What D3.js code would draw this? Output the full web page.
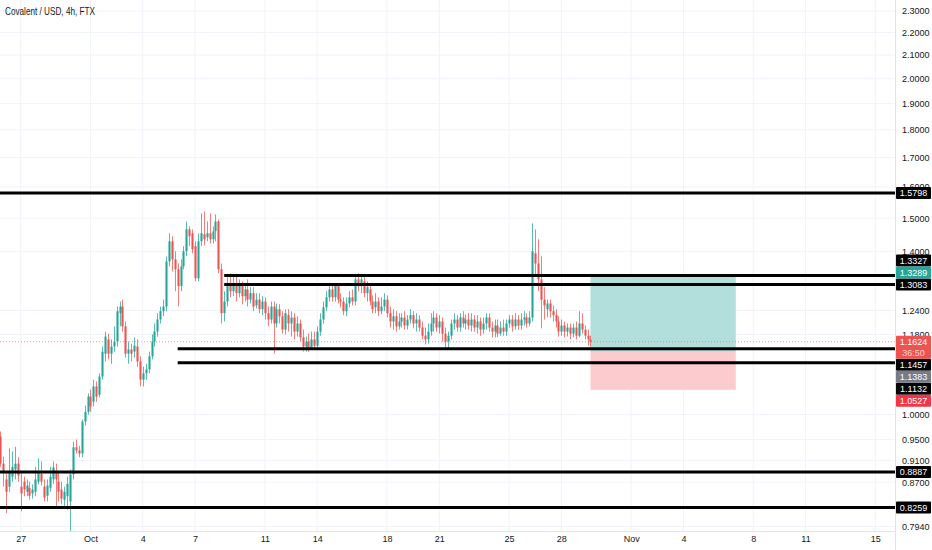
<!DOCTYPE html>
<html>
<head>
<meta charset="utf-8">
<script src="https://cdn.jsdelivr.net/npm/d3@7"></script>
<style>
  body { margin: 0; background: #fff; }
  svg { display: block; }
  text { font-family: "Liberation Sans", Arial, sans-serif; }
</style>
</head>
<body>
<div id="container"></div>
<script>
// Covalent / USD 4h candles, Sep 25 20:00 -> Oct 29 16:00 (UTC)
const candleStart = Date.UTC(2021, 8, 25, 20);
const candleHours = 4;

const opens = [
  0.956, 0.904, 0.875, 0.862, 0.880, 0.893, 0.904, 0.862, 0.871, 0.853,
  0.860, 0.850, 0.853, 0.871, 0.885, 0.862, 0.846, 0.860, 0.875, 0.889,
  0.871, 0.857, 0.839, 0.845, 0.836, 0.884, 0.935, 0.929, 0.923, 0.986,
  1.006, 1.038, 1.027, 1.060, 1.042, 1.082, 1.134, 1.168, 1.134, 1.151,
  1.163, 1.233, 1.250, 1.200, 1.134, 1.144, 1.139, 1.151, 1.116, 1.075,
  1.089, 1.098, 1.128, 1.163, 1.187, 1.217, 1.238, 1.250, 1.372, 1.430,
  1.378, 1.350, 1.304, 1.358, 1.401, 1.466, 1.454, 1.416, 1.325, 1.430,
  1.451, 1.442, 1.454, 1.436, 1.460, 1.490, 1.350, 1.233, 1.263, 1.312,
  1.290, 1.312, 1.285, 1.304, 1.277, 1.295, 1.268, 1.285, 1.253, 1.268,
  1.243, 1.263, 1.233, 1.217, 1.250, 1.207, 1.243, 1.225, 1.192, 1.228,
  1.207, 1.222, 1.187, 1.207, 1.173, 1.151, 1.163, 1.149, 1.168, 1.153,
  1.187, 1.217, 1.248, 1.274, 1.295, 1.274, 1.304, 1.268, 1.263, 1.238,
  1.258, 1.274, 1.263, 1.322, 1.304, 1.317, 1.285, 1.295, 1.263, 1.248,
  1.263, 1.238, 1.250, 1.268, 1.233, 1.212, 1.225, 1.200, 1.212, 1.222,
  1.202, 1.217, 1.228, 1.207, 1.217, 1.197, 1.177, 1.168, 1.187, 1.207,
  1.222, 1.197, 1.212, 1.182, 1.163, 1.177, 1.207, 1.217, 1.197, 1.222,
  1.207, 1.217, 1.202, 1.217, 1.197, 1.212, 1.192, 1.207, 1.222, 1.197,
  1.187, 1.202, 1.182, 1.197, 1.187, 1.207, 1.217, 1.200, 1.217, 1.202,
  1.217, 1.222, 1.207, 1.222, 1.395, 1.366, 1.322, 1.268, 1.243, 1.258,
  1.238, 1.228, 1.212, 1.187, 1.202, 1.187, 1.197, 1.182, 1.197, 1.177,
  1.207, 1.192, 1.177, 1.168
];
const highs = [
  0.966, 0.917, 0.889, 0.933, 0.927, 0.936, 0.916, 0.889, 0.880, 0.875,
  0.871, 0.866, 0.898, 0.914, 0.908, 0.875, 0.875, 0.898, 0.908, 0.904,
  0.889, 0.871, 0.862, 0.880, 0.893, 0.946, 0.950, 0.938, 0.990, 1.019,
  1.045, 1.053, 1.075, 1.071, 1.089, 1.151, 1.187, 1.182, 1.168, 1.200,
  1.250, 1.263, 1.268, 1.212, 1.163, 1.158, 1.173, 1.168, 1.128, 1.104,
  1.111, 1.139, 1.180, 1.207, 1.233, 1.250, 1.268, 1.386, 1.454, 1.445,
  1.401, 1.366, 1.378, 1.416, 1.490, 1.475, 1.466, 1.430, 1.454, 1.515,
  1.521, 1.490, 1.515, 1.475, 1.512, 1.496, 1.366, 1.290, 1.328, 1.339,
  1.331, 1.333, 1.322, 1.317, 1.312, 1.322, 1.301, 1.301, 1.285, 1.285,
  1.277, 1.274, 1.250, 1.263, 1.263, 1.258, 1.256, 1.238, 1.243, 1.243,
  1.238, 1.233, 1.225, 1.217, 1.192, 1.175, 1.182, 1.187, 1.187, 1.200,
  1.233, 1.263, 1.290, 1.312, 1.312, 1.312, 1.309, 1.285, 1.274, 1.274,
  1.290, 1.295, 1.333, 1.339, 1.336, 1.331, 1.317, 1.306, 1.279, 1.285,
  1.274, 1.274, 1.285, 1.279, 1.250, 1.243, 1.238, 1.233, 1.233, 1.238,
  1.228, 1.243, 1.238, 1.233, 1.228, 1.212, 1.197, 1.207, 1.233, 1.238,
  1.233, 1.228, 1.222, 1.197, 1.187, 1.217, 1.233, 1.228, 1.233, 1.238,
  1.230, 1.233, 1.233, 1.228, 1.228, 1.222, 1.222, 1.233, 1.233, 1.212,
  1.217, 1.217, 1.212, 1.217, 1.217, 1.228, 1.228, 1.233, 1.228, 1.233,
  1.238, 1.233, 1.238, 1.484, 1.466, 1.436, 1.387, 1.301, 1.268, 1.268,
  1.253, 1.243, 1.225, 1.217, 1.212, 1.207, 1.207, 1.207, 1.212, 1.238,
  1.233, 1.202, 1.192, 1.177
];
const lows = [
  0.898, 0.862, 0.816, 0.853, 0.871, 0.875, 0.871, 0.819, 0.845, 0.845,
  0.839, 0.841, 0.845, 0.866, 0.864, 0.836, 0.836, 0.853, 0.867, 0.828,
  0.836, 0.831, 0.828, 0.822, 0.785, 0.875, 0.923, 0.916, 0.916, 0.978,
  1.000, 1.006, 1.017, 1.027, 1.036, 1.075, 1.116, 1.121, 1.111, 1.139,
  1.151, 1.200, 1.187, 1.125, 1.111, 1.116, 1.125, 1.104, 1.060, 1.060,
  1.075, 1.089, 1.121, 1.151, 1.175, 1.207, 1.225, 1.238, 1.358, 1.344,
  1.290, 1.250, 1.290, 1.350, 1.387, 1.416, 1.395, 1.317, 1.317, 1.416,
  1.418, 1.430, 1.424, 1.424, 1.430, 1.339, 1.207, 1.212, 1.250, 1.274,
  1.277, 1.263, 1.274, 1.256, 1.263, 1.250, 1.258, 1.238, 1.245, 1.233,
  1.228, 1.217, 1.200, 1.207, 1.134, 1.197, 1.207, 1.182, 1.180, 1.187,
  1.175, 1.168, 1.175, 1.163, 1.139, 1.139, 1.139, 1.144, 1.146, 1.144,
  1.177, 1.207, 1.238, 1.263, 1.263, 1.263, 1.258, 1.248, 1.228, 1.225,
  1.248, 1.253, 1.253, 1.290, 1.285, 1.274, 1.263, 1.253, 1.233, 1.233,
  1.225, 1.230, 1.238, 1.222, 1.197, 1.192, 1.187, 1.192, 1.197, 1.192,
  1.192, 1.207, 1.195, 1.187, 1.187, 1.168, 1.156, 1.158, 1.177, 1.187,
  1.187, 1.182, 1.163, 1.149, 1.144, 1.168, 1.192, 1.187, 1.187, 1.197,
  1.192, 1.192, 1.187, 1.187, 1.182, 1.177, 1.182, 1.192, 1.187, 1.173,
  1.173, 1.173, 1.177, 1.177, 1.177, 1.197, 1.187, 1.192, 1.192, 1.192,
  1.202, 1.197, 1.200, 1.212, 1.331, 1.290, 1.195, 1.217, 1.222, 1.222,
  1.212, 1.197, 1.175, 1.177, 1.173, 1.175, 1.168, 1.173, 1.168, 1.173,
  1.182, 1.168, 1.153, 1.151
];
const closes = [
  0.904, 0.889, 0.853, 0.889, 0.898, 0.904, 0.882, 0.850, 0.857, 0.864,
  0.846, 0.857, 0.875, 0.889, 0.871, 0.843, 0.864, 0.880, 0.897, 0.875,
  0.853, 0.841, 0.853, 0.867, 0.884, 0.935, 0.929, 0.923, 0.986, 1.006,
  1.038, 1.017, 1.060, 1.038, 1.082, 1.139, 1.175, 1.134, 1.151, 1.163,
  1.238, 1.250, 1.200, 1.134, 1.144, 1.134, 1.153, 1.116, 1.075, 1.089,
  1.098, 1.128, 1.163, 1.187, 1.217, 1.238, 1.250, 1.372, 1.430, 1.378,
  1.350, 1.304, 1.358, 1.401, 1.466, 1.445, 1.407, 1.325, 1.430, 1.454,
  1.436, 1.454, 1.436, 1.460, 1.490, 1.350, 1.233, 1.263, 1.312, 1.290,
  1.312, 1.285, 1.306, 1.277, 1.295, 1.268, 1.285, 1.250, 1.268, 1.243,
  1.263, 1.233, 1.217, 1.250, 1.207, 1.243, 1.225, 1.192, 1.233, 1.207,
  1.222, 1.187, 1.207, 1.173, 1.151, 1.163, 1.149, 1.168, 1.153, 1.187,
  1.217, 1.248, 1.274, 1.295, 1.274, 1.306, 1.268, 1.263, 1.238, 1.258,
  1.274, 1.263, 1.322, 1.304, 1.322, 1.285, 1.301, 1.263, 1.243, 1.263,
  1.238, 1.250, 1.268, 1.233, 1.212, 1.225, 1.200, 1.212, 1.222, 1.202,
  1.217, 1.228, 1.207, 1.217, 1.197, 1.177, 1.168, 1.187, 1.207, 1.222,
  1.197, 1.212, 1.182, 1.163, 1.177, 1.207, 1.217, 1.197, 1.222, 1.207,
  1.217, 1.202, 1.217, 1.197, 1.212, 1.192, 1.207, 1.222, 1.197, 1.187,
  1.202, 1.182, 1.197, 1.187, 1.207, 1.217, 1.200, 1.217, 1.202, 1.217,
  1.222, 1.207, 1.222, 1.401, 1.366, 1.322, 1.268, 1.253, 1.258, 1.238,
  1.228, 1.212, 1.187, 1.202, 1.187, 1.197, 1.182, 1.197, 1.177, 1.207,
  1.192, 1.177, 1.168, 1.1624
];

// horizontal levels drawn on the chart (price, start of the line)
const levelPrices = [1.5798, 1.3327, 1.3083, 1.1457, 1.1132, 0.8887, 0.8259];
const levelStarts = [
  "2021-09-20T00:00Z", "2021-10-08T16:00Z", "2021-10-08T16:00Z",
  "2021-10-06T00:00Z", "2021-10-06T00:00Z", "2021-09-20T00:00Z", "2021-09-20T00:00Z"
];

// long position tool
const positionTarget = 1.3289;
const positionEntry = 1.1383;
const positionStop = 1.0527;
const positionEnd = "2021-11-07T00:00Z";
const lastPrice = 1.1624;
const countdown = "36:50";

// axis ticks
const priceTicks = [2.3, 2.2, 2.1, 2.0, 1.9, 1.8, 1.7, 1.6, 1.5, 1.4, 1.24, 1.18, 1.0, 0.95, 0.91, 0.87, 0.794];
const dateTicks = [
  "2021-09-27", "2021-10-01", "2021-10-04", "2021-10-07", "2021-10-11",
  "2021-10-14", "2021-10-18", "2021-10-21", "2021-10-25", "2021-10-28",
  "2021-11-01", "2021-11-04", "2021-11-08", "2021-11-11", "2021-11-15"
];

const chartTitle = "Covalent / USD, 4h, FTX";

const UP = "#26a69a";
const DOWN = "#ef5350";

draw();

function draw() {
  const width = 932;
  const height = 550;
  const plotRight = 895;
  const plotBottom = 531;

  const candles = closes.map((c, i) => ({
    t: new Date(candleStart + i * candleHours * 3600000),
    o: opens[i],
    h: highs[i],
    l: lows[i],
    c: c,
  }));

  const x = d3
    .scaleUtc()
    .domain([new Date("2021-09-27T00:00Z"), new Date("2021-11-15T00:00Z")])
    .range([20.7, 875.3]);
  const y = d3.scaleLog().domain([0.794, 2.3]).range([526.5, 11]);

  const step = x(new Date(candleStart + candleHours * 3600000)) - x(new Date(candleStart));
  const bodyW = Math.max(1, step * 0.72);

  const svg = d3
    .select("#container")
    .append("svg")
    .attr("width", width)
    .attr("height", height)
    .style("background", "#fff");

  svg.append("clipPath").attr("id", "plot")
    .append("rect").attr("x", 0).attr("y", 0).attr("width", plotRight).attr("height", plotBottom);

  // grid
  const grid = svg.append("g").attr("clip-path", "url(#plot)");
  grid.selectAll("line.v")
    .data(dateTicks.map((d) => new Date(d + "T00:00Z")))
    .enter()
    .append("line")
    .attr("x1", (d) => x(d)).attr("x2", (d) => x(d))
    .attr("y1", 0).attr("y2", plotBottom)
    .attr("stroke", "#f0f3fa");
  grid.selectAll("line.h")
    .data(priceTicks)
    .enter()
    .append("line")
    .attr("x1", 0).attr("x2", plotRight)
    .attr("y1", (d) => y(d)).attr("y2", (d) => y(d))
    .attr("stroke", "#f0f3fa");

  const plot = svg.append("g").attr("clip-path", "url(#plot)");

  // position box (long)
  const boxX0 = x(candles[candles.length - 1].t);
  const boxX1 = x(new Date(positionEnd));
  plot.append("rect")
    .attr("x", boxX0).attr("width", boxX1 - boxX0)
    .attr("y", y(positionTarget)).attr("height", y(positionEntry) - y(positionTarget))
    .attr("fill", "#b2dfdb");
  plot.append("rect")
    .attr("x", boxX0).attr("width", boxX1 - boxX0)
    .attr("y", y(positionEntry)).attr("height", y(positionStop) - y(positionEntry))
    .attr("fill", "#fccbcd");

  // current price dotted line
  plot.append("line")
    .attr("x1", 0).attr("x2", plotRight)
    .attr("y1", y(lastPrice)).attr("y2", y(lastPrice))
    .attr("stroke", DOWN).attr("stroke-opacity", 0.6)
    .attr("stroke-dasharray", "1,2");

  // candles
  const cg = plot.append("g");
  cg.selectAll("line.wick")
    .data(candles)
    .enter()
    .append("line")
    .attr("x1", (d) => Math.round(x(d.t)) + 0.5)
    .attr("x2", (d) => Math.round(x(d.t)) + 0.5)
    .attr("y1", (d) => y(d.h))
    .attr("y2", (d) => y(d.l))
    .attr("stroke", (d) => (d.c >= d.o ? UP : DOWN))
    .attr("stroke-opacity", 0.75);
  cg.selectAll("rect.body")
    .data(candles)
    .enter()
    .append("rect")
    .attr("x", (d) => Math.round(x(d.t)) + 0.5 - bodyW / 2)
    .attr("width", bodyW)
    .attr("y", (d) => y(Math.max(d.o, d.c)))
    .attr("height", (d) => Math.max(1, Math.abs(y(d.o) - y(d.c))))
    .attr("fill", (d) => (d.c >= d.o ? UP : DOWN));

  // horizontal levels
  plot.selectAll("line.level")
    .data(levelPrices)
    .enter()
    .append("line")
    .attr("x1", (d, i) => x(new Date(levelStarts[i])))
    .attr("x2", plotRight)
    .attr("y1", (d) => y(d))
    .attr("y2", (d) => y(d))
    .attr("stroke", "#000")
    .attr("stroke-width", 3);

  // title
  svg.append("text")
    .attr("x", 5).attr("y", 15)
    .attr("font-size", 10.5)
    .attr("textLength", 90)
    .attr("lengthAdjust", "spacingAndGlyphs")
    .attr("fill", "#131722")
    .text(chartTitle);

  // borders
  svg.append("line")
    .attr("x1", plotRight + 0.5).attr("x2", plotRight + 0.5)
    .attr("y1", 0).attr("y2", height)
    .attr("stroke", "#e0e3eb");
  svg.append("line")
    .attr("x1", 0).attr("x2", plotRight)
    .attr("y1", plotBottom + 0.5).attr("y2", plotBottom + 0.5)
    .attr("stroke", "#e0e3eb");

  // price axis
  const yAxis = d3.axisRight(y)
    .tickValues(priceTicks)
    .tickFormat(d3.format(".4f"))
    .tickSize(0)
    .tickPadding(7);
  const ya = svg.append("g").attr("transform", `translate(${plotRight},0)`).call(yAxis);
  ya.select(".domain").remove();
  ya.selectAll("text")
    .attr("font-family", '"Liberation Sans", Arial, sans-serif')
    .attr("font-size", 9).attr("fill", "#131722");

  // date axis
  const xAxis = d3.axisBottom(x)
    .tickValues(dateTicks.map((d) => new Date(d + "T00:00Z")))
    .tickFormat((d) => (d.getUTCDate() === 1 ? d3.utcFormat("%b")(d) : d.getUTCDate()))
    .tickSize(0)
    .tickPadding(5);
  const xa = svg.append("g").attr("transform", `translate(0,${plotBottom})`).call(xAxis);
  xa.select(".domain").remove();
  xa.selectAll("text")
    .attr("font-family", '"Liberation Sans", Arial, sans-serif')
    .attr("font-size", 9).attr("fill", "#131722");

  // price labels on the axis, stacked so they do not overlap
  const labels = levelPrices.map((p) => ({ value: p, fill: "#000", h: 12 }));
  labels.push({ value: positionTarget, fill: UP, h: 12 });
  labels.push({ value: positionEntry, fill: "#787b86", h: 12 });
  labels.push({ value: positionStop, fill: "#f23645", h: 12 });
  const current = { value: lastPrice, fill: DOWN, h: 23, sub: countdown, anchor: true };
  labels.push(current);
  labels.forEach((d) => (d.top = y(d.value) - 6));

  const above = labels.filter((d) => d.value > lastPrice).sort((a, b) => a.value - b.value);
  let limit = current.top;
  above.forEach((d) => {
    if (d.top + d.h > limit) d.top = limit - d.h;
    limit = d.top;
  });
  const below = labels.filter((d) => d.value < lastPrice).sort((a, b) => b.value - a.value);
  limit = current.top + current.h;
  below.forEach((d) => {
    if (d.top < limit) d.top = limit;
    limit = d.top + d.h;
  });

  const lg = svg.append("g").selectAll("g").data(labels).enter().append("g");
  lg.append("rect")
    .attr("x", plotRight + 1).attr("width", 35)
    .attr("y", (d) => d.top).attr("height", (d) => d.h)
    .attr("rx", 1)
    .attr("fill", (d) => d.fill);
  lg.append("text")
    .attr("x", plotRight + 18.5)
    .attr("y", (d) => d.top + 9.3)
    .attr("text-anchor", "middle")
    .attr("font-size", 9)
    .attr("fill", "#fff")
    .text((d) => d3.format(".4f")(d.value));
  lg.filter((d) => d.sub)
    .append("text")
    .attr("x", plotRight + 18.5)
    .attr("y", (d) => d.top + 20)
    .attr("text-anchor", "middle")
    .attr("font-size", 9)
    .attr("fill", "#fff")
    .attr("fill-opacity", 0.75)
    .text((d) => d.sub);
}
</script>
</body>
</html>
